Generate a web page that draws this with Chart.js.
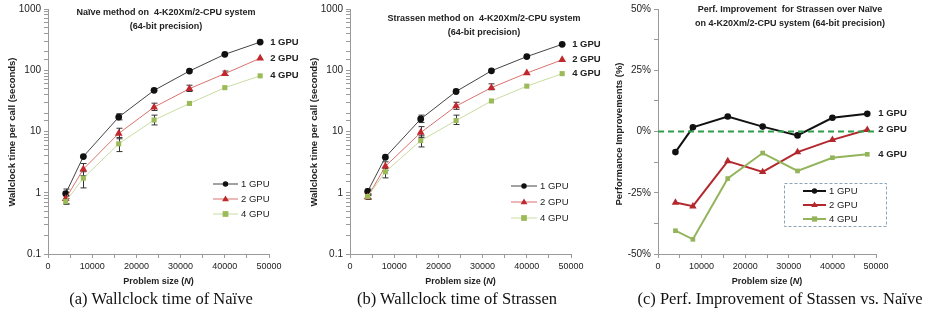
<!DOCTYPE html>
<html>
<head>
<meta charset="utf-8">
<script src="https://cdn.jsdelivr.net/npm/chart.js@4.4.1/dist/chart.umd.min.js"></script>
<style>
    body { margin: 0; background: #fff; width: 928px; height: 322px; overflow: hidden; position: relative; }
    .panel { position: absolute; top: 0; }
    .cap { position: absolute; top: 289px; width: 300px; text-align: center; color: #111;
           font: 16.5px "Liberation Serif", "Times New Roman", serif; white-space: nowrap; }
</style>
</head>
<body>
<canvas id="naiveChart" class="panel" style="left:0" width="310" height="290"></canvas>
<canvas id="strassenChart" class="panel" style="left:310px" width="300" height="290"></canvas>
<canvas id="improveChart" class="panel" style="left:610px" width="318" height="290"></canvas>
<div class="cap" style="left:11px">(a) Wallclock time of Naïve</div>
<div class="cap" style="left:307px">(b) Wallclock time of Strassen</div>
<div class="cap" style="left:630px">(c) Perf. Improvement of Stassen vs. Naïve</div>
<script>
// =============================================================================
// Data
// =============================================================================

const problemSizes = [4000, 8000, 16000, 24000, 32000, 40000, 48000];
const seriesNames = ['1 GPU', '2 GPU', '4 GPU'];

// (a) Naive, seconds per call
const naive1 = [0.97, 3.9, 17.2, 47, 97, 182, 288];
const naive2 = [0.8, 2.43, 9.3, 25, 50, 88, 157];
const naive4 = [0.72, 1.73, 6.3, 15.4, 28.7, 52, 81];
const naiveErrLo1 = [0.88, null, 15.5, null, null, null, null];
const naiveErrHi1 = [1.15, null, 19.5, null, null, null, null];
const naiveErrLo2 = [0.65, 1.9, 7.6, 22, 45, 82, null];
const naiveErrHi2 = [0.9, 3.0, 11.3, 29, 57, 97, null];
const naiveErrLo4 = [0.66, 1.2, 4.7, 12.8, null, null, null];
const naiveErrHi4 = [0.8, 2.2, 8.0, 18.5, null, null, null];

// (b) Strassen, seconds per call
const strassen1 = [1.05, 3.8, 16, 45, 98, 167, 265];
const strassen2 = [0.85, 2.7, 9.6, 26, 52, 90, 148];
const strassen4 = [0.87, 2.2, 7.1, 15.1, 31.5, 55, 88];
const strassenErrLo1 = [0.95, null, 14, null, null, null, null];
const strassenErrHi1 = [1.15, null, 18.5, null, null, null, null];
const strassenErrLo2 = [0.78, 2.3, 8.0, 23, 48, null, null];
const strassenErrHi2 = [0.9, 3.2, 12, 30, 60, null, null];
const strassenErrLo4 = [0.8, 1.75, 5.6, 13, null, null, null];
const strassenErrHi4 = [0.95, 2.5, 8.5, 18.5, null, null, null];

// (c) improvement of Strassen over Naive, percent
const improve1 = [-8.4, 1.7, 6.1, 2.0, -1.6, 5.6, 7.2];
const improve2 = [-29, -30.5, -12.1, -16.5, -8.4, -3.4, 0.7];
const improve4 = [-40.5, -44, -19.2, -8.8, -16.1, -10.7, -9.3];
const zeroLineX = [0, 50000];
const zeroLineY = [0, 0];

// =============================================================================
// Styles
// =============================================================================

const COLORS = {
    axis: '#9a9a9a',
    text: '#222',
    black: '#111',
    red: '#c0282d',
    redLine: '#d9736f',
    green: '#9bbb59',
    greenLine: '#c9dca2',
    redBold: '#b3282d',
    greenBold: '#93b45a',
    zero: '#2e9e4a'
};
const FONT = '"Liberation Sans", Arial, sans-serif';
Chart.defaults.font.family = FONT;

function pts(ys) {
    return ys.map((y, i) => ({ x: problemSizes[i], y: y }));
}

function xAxis() {
    return {
        type: 'linear', min: 0, max: 50000,
        ticks: {
            stepSize: 5000, autoSkip: false, maxRotation: 0, padding: 3,
            color: COLORS.text, font: { size: 9 },
            callback: v => (v % 10000 === 0 ? String(v) : '')
        },
        grid: { drawOnChartArea: false, tickLength: 4, color: COLORS.axis },
        border: { color: COLORS.axis },
        afterFit: s => { s.height = 36; }
    };
}

function logAxis(width) {
    return {
        type: 'logarithmic', min: 0.1, max: 1000,
        ticks: {
            autoSkip: false, padding: 3, color: COLORS.text, font: { size: 10 },
            callback: v => {
                const l = Math.log10(v);
                if (Math.abs(l - Math.round(l)) > 1e-6) return '';
                return v < 1 ? '0.1' : String(Math.round(v));
            }
        },
        grid: { drawOnChartArea: false, tickLength: 4, color: COLORS.axis },
        border: { color: COLORS.axis },
        afterFit: s => { s.width = width; }
    };
}

// =============================================================================
// Overlay plugin: titles, end labels, legend, error bars
// =============================================================================

function drawMarker(ctx, style, x, y, r, color) {
    ctx.fillStyle = color;
    ctx.beginPath();
    if (style === 'circle') {
        ctx.arc(x, y, r, 0, Math.PI * 2);
    } else if (style === 'triangle') {
        ctx.moveTo(x, y - r);
        ctx.lineTo(x + r * 0.95, y + r * 0.6);
        ctx.lineTo(x - r * 0.95, y + r * 0.6);
        ctx.closePath();
    } else {
        ctx.rect(x - r, y - r, r * 2, r * 2);
    }
    ctx.fill();
}

const overlay = {
    id: 'overlay',
    beforeDatasetsDraw(chart, args, o) {
        // error bars go under the markers
        const ctx = chart.ctx;
        const xs = chart.scales.x, ys = chart.scales.y;
        ctx.save();
        ctx.strokeStyle = '#333';
        ctx.lineWidth = 1;
        (o.errors || []).forEach(e => {
            problemSizes.forEach((n, i) => {
                if (e.lo[i] == null) return;
                const px = Math.round(xs.getPixelForValue(n)) + 0.5;
                const y1 = ys.getPixelForValue(e.lo[i]);
                const y2 = ys.getPixelForValue(e.hi[i]);
                ctx.beginPath();
                ctx.moveTo(px, y1); ctx.lineTo(px, y2);
                ctx.moveTo(px - 3, y1); ctx.lineTo(px + 3, y1);
                ctx.moveTo(px - 3, y2); ctx.lineTo(px + 3, y2);
                ctx.stroke();
            });
        });
        ctx.restore();
    },
    afterDatasetsDraw(chart, args, o) {
        const ctx = chart.ctx;
        const area = chart.chartArea;
        ctx.save();

        // chart title inside plot
        ctx.fillStyle = COLORS.text;
        ctx.textAlign = 'center';
        ctx.textBaseline = 'middle';
        ctx.font = 'bold 9px ' + FONT;
        o.title.forEach((t, i) => ctx.fillText(t, o.titleX, o.titleY + i * 14));

        // labels next to the last points
        ctx.textAlign = 'left';
        ctx.font = 'bold 9.5px ' + FONT;
        o.endSeries.forEach((idx, k) => {
            const meta = chart.getDatasetMeta(idx);
            const last = meta.data[meta.data.length - 1];
            ctx.fillText(seriesNames[k], last.x + o.endDx, last.y);
        });

        // legend
        const lg = o.legend;
        if (lg.box) {
            ctx.strokeStyle = '#8fa3b3';
            ctx.lineWidth = 1;
            ctx.setLineDash([3, 2]);
            ctx.strokeRect(lg.box[0] + 0.5, lg.box[1] + 0.5, lg.box[2], lg.box[3]);
            ctx.setLineDash([]);
        }
        ctx.font = '9.5px ' + FONT;
        o.endSeries.forEach((idx, k) => {
            const ds = chart.data.datasets[idx];
            const y = lg.y + k * lg.dy;
            ctx.strokeStyle = ds.borderColor;
            ctx.lineWidth = ds.borderWidth;
            ctx.beginPath();
            ctx.moveTo(lg.x, y); ctx.lineTo(lg.x + lg.w, y);
            ctx.stroke();
            drawMarker(ctx, ds.pointStyle, lg.x + lg.w / 2, y, ds.pointRadius * 0.8, ds.pointBackgroundColor);
            ctx.fillStyle = COLORS.text;
            ctx.fillText(seriesNames[k], lg.x + lg.w + 3, y);
        });

        // axis titles
        ctx.fillStyle = COLORS.text;
        ctx.font = 'bold 9px ' + FONT;
        const a = 'Problem size (', b = 'N', c = ')';
        const wa = ctx.measureText(a).width;
        const wc = ctx.measureText(c).width;
        ctx.font = 'bold italic 9px ' + FONT;
        const wb = ctx.measureText(b).width;
        const x0 = (area.left + area.right) / 2 - (wa + wb + wc) / 2;
        const ty = area.bottom + 28;
        ctx.font = 'bold 9px ' + FONT;
        ctx.fillText(a, x0, ty);
        ctx.font = 'bold italic 9px ' + FONT;
        ctx.fillText(b, x0 + wa, ty);
        ctx.font = 'bold 9px ' + FONT;
        ctx.fillText(c, x0 + wa + wb, ty);

        ctx.translate(o.yTitleX, o.yTitleY);
        ctx.rotate(-Math.PI / 2);
        ctx.textAlign = 'center';
        ctx.font = 'bold 9.5px ' + FONT;
        ctx.fillText(o.yTitle, 0, 0);
        ctx.restore();
    }
};

// =============================================================================
// Charts
// =============================================================================

function timeDatasets(s1, s2, s4) {
    return [
        { data: pts(s4), borderColor: COLORS.greenLine, borderWidth: 1, pointStyle: 'rect',
          pointRadius: 3.6, pointBackgroundColor: COLORS.green, pointBorderWidth: 0 },
        { data: pts(s2), borderColor: COLORS.redLine, borderWidth: 1, pointStyle: 'triangle',
          pointRadius: 4.5, pointBackgroundColor: COLORS.red, pointBorderWidth: 0 },
        { data: pts(s1), borderColor: '#444', borderWidth: 1, pointStyle: 'circle',
          pointRadius: 3.4, pointBackgroundColor: COLORS.black, pointBorderWidth: 0 }
    ];
}

function baseOptions(padRight, scales, overlayOpts) {
    return {
        responsive: false,
        animation: false,
        layout: { padding: { left: 0, top: 8, right: padRight, bottom: 0 } },
        scales: scales,
        plugins: { legend: { display: false }, tooltip: { enabled: false }, overlay: overlayOpts }
    };
}

new Chart(document.getElementById('naiveChart'), {
    type: 'line',
    data: { datasets: timeDatasets(naive1, naive2, naive4) },
    options: baseOptions(41, { x: xAxis(), y: logAxis(48) }, {
        title: ['Naïve method on  4-K20Xm/2-CPU system', '(64-bit precision)'],
        titleX: 166, titleY: 13,
        endSeries: [2, 1, 0], endDx: 10,
        legend: { x: 213, y: 184, dy: 15, w: 25 },
        errors: [
            { lo: naiveErrLo1, hi: naiveErrHi1 },
            { lo: naiveErrLo2, hi: naiveErrHi2 },
            { lo: naiveErrLo4, hi: naiveErrHi4 }
        ],
        yTitle: 'Wallclock time per call (seconds)', yTitleX: 12, yTitleY: 132
    }),
    plugins: [overlay]
});

new Chart(document.getElementById('strassenChart'), {
    type: 'line',
    data: { datasets: timeDatasets(strassen1, strassen2, strassen4) },
    options: baseOptions(39, { x: xAxis(), y: logAxis(40) }, {
        title: ['Strassen method on  4-K20Xm/2-CPU system', '(64-bit precision)'],
        titleX: 174, titleY: 19,
        endSeries: [2, 1, 0], endDx: 10,
        legend: { x: 201, y: 186, dy: 16, w: 26 },
        errors: [
            { lo: strassenErrLo1, hi: strassenErrHi1 },
            { lo: strassenErrLo2, hi: strassenErrHi2 },
            { lo: strassenErrLo4, hi: strassenErrHi4 }
        ],
        yTitle: 'Wallclock time per call (seconds)', yTitleX: 4, yTitleY: 132
    }),
    plugins: [overlay]
});

new Chart(document.getElementById('improveChart'), {
    type: 'line',
    data: {
        datasets: [
            { data: zeroLineX.map((x, i) => ({ x: x, y: zeroLineY[i] })), borderColor: COLORS.zero,
              borderWidth: 2, borderDash: [6, 4], pointRadius: 0 },
            { data: pts(improve4), borderColor: COLORS.greenBold, borderWidth: 2, pointStyle: 'rect',
              pointRadius: 3.3, pointBackgroundColor: COLORS.greenBold, pointBorderWidth: 0 },
            { data: pts(improve2), borderColor: COLORS.redBold, borderWidth: 2, pointStyle: 'triangle',
              pointRadius: 4.3, pointBackgroundColor: COLORS.redBold, pointBorderWidth: 0 },
            { data: pts(improve1), borderColor: COLORS.black, borderWidth: 2, pointStyle: 'circle',
              pointRadius: 3.3, pointBackgroundColor: COLORS.black, pointBorderWidth: 0 }
        ]
    },
    options: baseOptions(52, {
        x: xAxis(),
        y: {
            type: 'linear', min: -50, max: 50,
            ticks: {
                stepSize: 12.5, autoSkip: false, padding: 3, color: COLORS.text, font: { size: 10 },
                callback: v => (v % 25 === 0 ? v + '%' : '')
            },
            grid: { drawOnChartArea: false, tickLength: 4, color: COLORS.axis },
            border: { color: COLORS.axis },
            afterFit: s => { s.width = 48; }
        }
    }, {
        title: ['Perf. Improvement  for Strassen over Naïve', 'on 4-K20Xm/2-CPU system (64-bit precision)'],
        titleX: 180, titleY: 10,
        endSeries: [3, 2, 1], endDx: 11,
        legend: { x: 193, y: 191, dy: 14, w: 23, box: [174, 183, 102, 43] },
        errors: [],
        yTitle: 'Performance Improvements (%)', yTitleX: 9, yTitleY: 134
    }),
    plugins: [overlay]
});
</script>
</body>
</html>
